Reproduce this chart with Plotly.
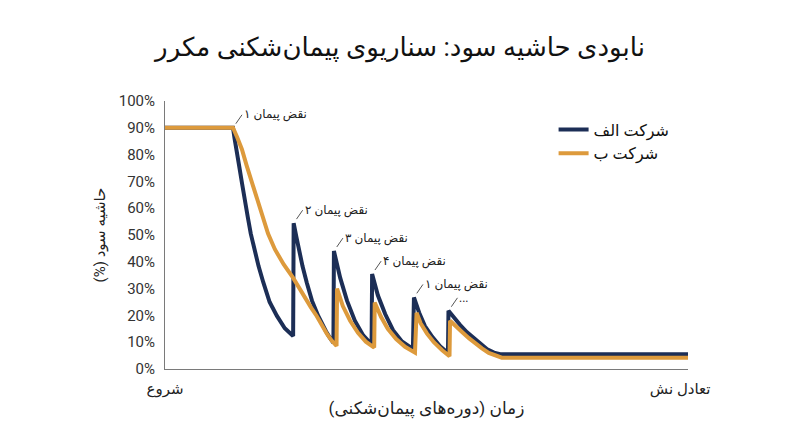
import plotly.graph_objects as go

# Time axis (0 = شروع, 100 = تعادل نش), margin in %
x_a = [0, 13.0, 13.3, 13.7, 14.2, 14.7, 15.2, 15.8, 16.4, 17.1, 17.9, 18.8, 20.0, 21.4, 22.9, 24.5,
       24.6, 25.1, 25.6, 26.3, 27.1, 28.1, 29.3, 30.0, 30.8, 31.5, 32.2,
       32.3, 33.5, 34.8, 36.3, 37.9, 39.5,
       39.6, 40.7, 42.1, 43.6, 45.3, 47.4,
       47.6, 48.6, 49.7, 51.1, 52.6, 54.1,
       54.2, 55.3, 56.4, 57.7, 58.9, 60.2, 61.6, 62.9, 64.1, 100]
y_a = [90, 90, 86, 82, 75.5, 69.6, 63, 57, 50.5, 44.7, 38.3, 32.3, 25.0, 19.8, 15.2, 12.3,
       54.4, 49.5, 44.7, 38.3, 32.3, 25.5, 19.8, 16.7, 14, 11.7, 9.8,
       44, 34, 25.5, 18, 12.5, 9.2,
       35.4, 27.5, 20.5, 14.5, 10.3, 7.5,
       26.7, 21, 16, 12, 8.5, 6.0,
       21.7, 19, 16.5, 13.8, 11.7, 9.5, 7.4, 6.1, 5.5, 5.5]

x_b = [0, 13.0, 13.8, 14.7, 15.6, 16.6, 17.5, 18.5, 19.7, 21.0, 22.7, 24.5, 25.6, 26.8, 27.9,
       29.0, 30.0, 31.0, 31.9, 32.8,
       32.9, 34.0, 35.4, 36.9, 38.4, 40.0,
       40.1, 41.3, 42.6, 44.2, 45.9, 47.8,
       48.1, 48.9, 50.1, 51.4, 53.0, 54.4,
       54.5, 55.6, 56.8, 58.1, 59.3, 60.6, 61.9, 63.3, 64.4, 100]
y_b = [90, 90, 86.5, 82, 76, 69.6, 63.3, 57, 50.5, 44.7, 39, 34, 30.2, 26.5, 23,
       19.8, 16.2, 13, 10.5, 8.6,
       30, 23.5, 18, 13.5, 10.2, 8,
       24.8, 19.5, 15, 11.2, 8.3, 6.1,
       21, 17, 13.2, 10, 7, 4.8,
       18, 15.8, 13.8, 11.5, 9.6, 7.7, 6, 4.8, 4.2, 4.2]

series_names = ["شرکت الف", "شرکت ب"]
break_x = [13.0, 24.6, 32.3, 39.6, 47.6, 54.2]
break_y = [90, 54.4, 44, 35.4, 26.7, 21.7]
break_labels = ["نقض پیمان ۱", "نقض پیمان ۲", "نقض پیمان ۳", "نقض پیمان ۴", "نقض پیمان ۱", "..."]

y_ticks = [0, 10, 20, 30, 40, 50, 60, 70, 80, 90, 100]
y_ticktext = [f"{v}%" for v in y_ticks]
x_tickvals = [0, 98.5]
x_ticktext = ["شروع", "تعادل نش"]

RLM = "\u200f"
NAVY = "#1c2e56"
ORANGE = "#dd9a3c"
FONT = "Roboto, DejaVu Sans, sans-serif"

fig = go.Figure()
fig.add_trace(go.Scatter(x=x_a, y=y_a, mode="lines", name=series_names[0],
                         line=dict(color=NAVY, width=4)))
fig.add_trace(go.Scatter(x=x_b, y=y_b, mode="lines", name=series_names[1],
                         line=dict(color=ORANGE, width=4)))

for bx, by, lab in zip(break_x, break_y, break_labels):
    fig.add_annotation(x=bx, y=by, text=RLM + lab + RLM, showarrow=True, arrowhead=0,
                       arrowwidth=1, arrowcolor="#555555", ax=9, ay=-13,
                       standoff=5, xanchor="left", yanchor="middle",
                       font=dict(size=12, color="#222222", family=FONT))

fig.update_layout(
    width=800, height=447,
    margin=dict(l=157, r=120, t=93, b=86),
    paper_bgcolor="white", plot_bgcolor="white",
    font=dict(family=FONT, color="#222222"),
    title=dict(text="نابودی حاشیه سود: سناریوی پیمان‌شکنی مکرر",
               x=0.49, xref="container", xanchor="center",
               y=1 - 39 / 447, yref="container", yanchor="middle",
               font=dict(size=26, color="#111111", family=FONT)),
    showlegend=True,
    legend=dict(x=0.743, y=0.957, xanchor="left", yanchor="top",
                bgcolor="rgba(0,0,0,0)", font=dict(size=16, color="#111111"),
                tracegroupgap=0),
    xaxis=dict(range=[0, 100], showline=True, linecolor="#7a7a7a", linewidth=1,
               showgrid=False, zeroline=False, tickvals=x_tickvals,
               ticktext=x_ticktext, ticks="", tickfont=dict(size=15, color="#222222"),
               ticklabelstandoff=6,
               title=dict(text=RLM + "زمان (دوره‌های پیمان‌شکنی)" + RLM,
                          font=dict(size=17, color="#222222"), standoff=5)),
    yaxis=dict(range=[0, 100], showline=True, linecolor="#7a7a7a", linewidth=1,
               showgrid=False, zeroline=False, tickvals=y_ticks, ticktext=y_ticktext,
               ticks="", tickfont=dict(size=15, color="#333333"), ticklabelstandoff=6,
               title=dict(text=RLM + "حاشیه سود (%)" + RLM,
                          font=dict(size=15, color="#222222"), standoff=9)),
)

fig.write_html("out.html")
